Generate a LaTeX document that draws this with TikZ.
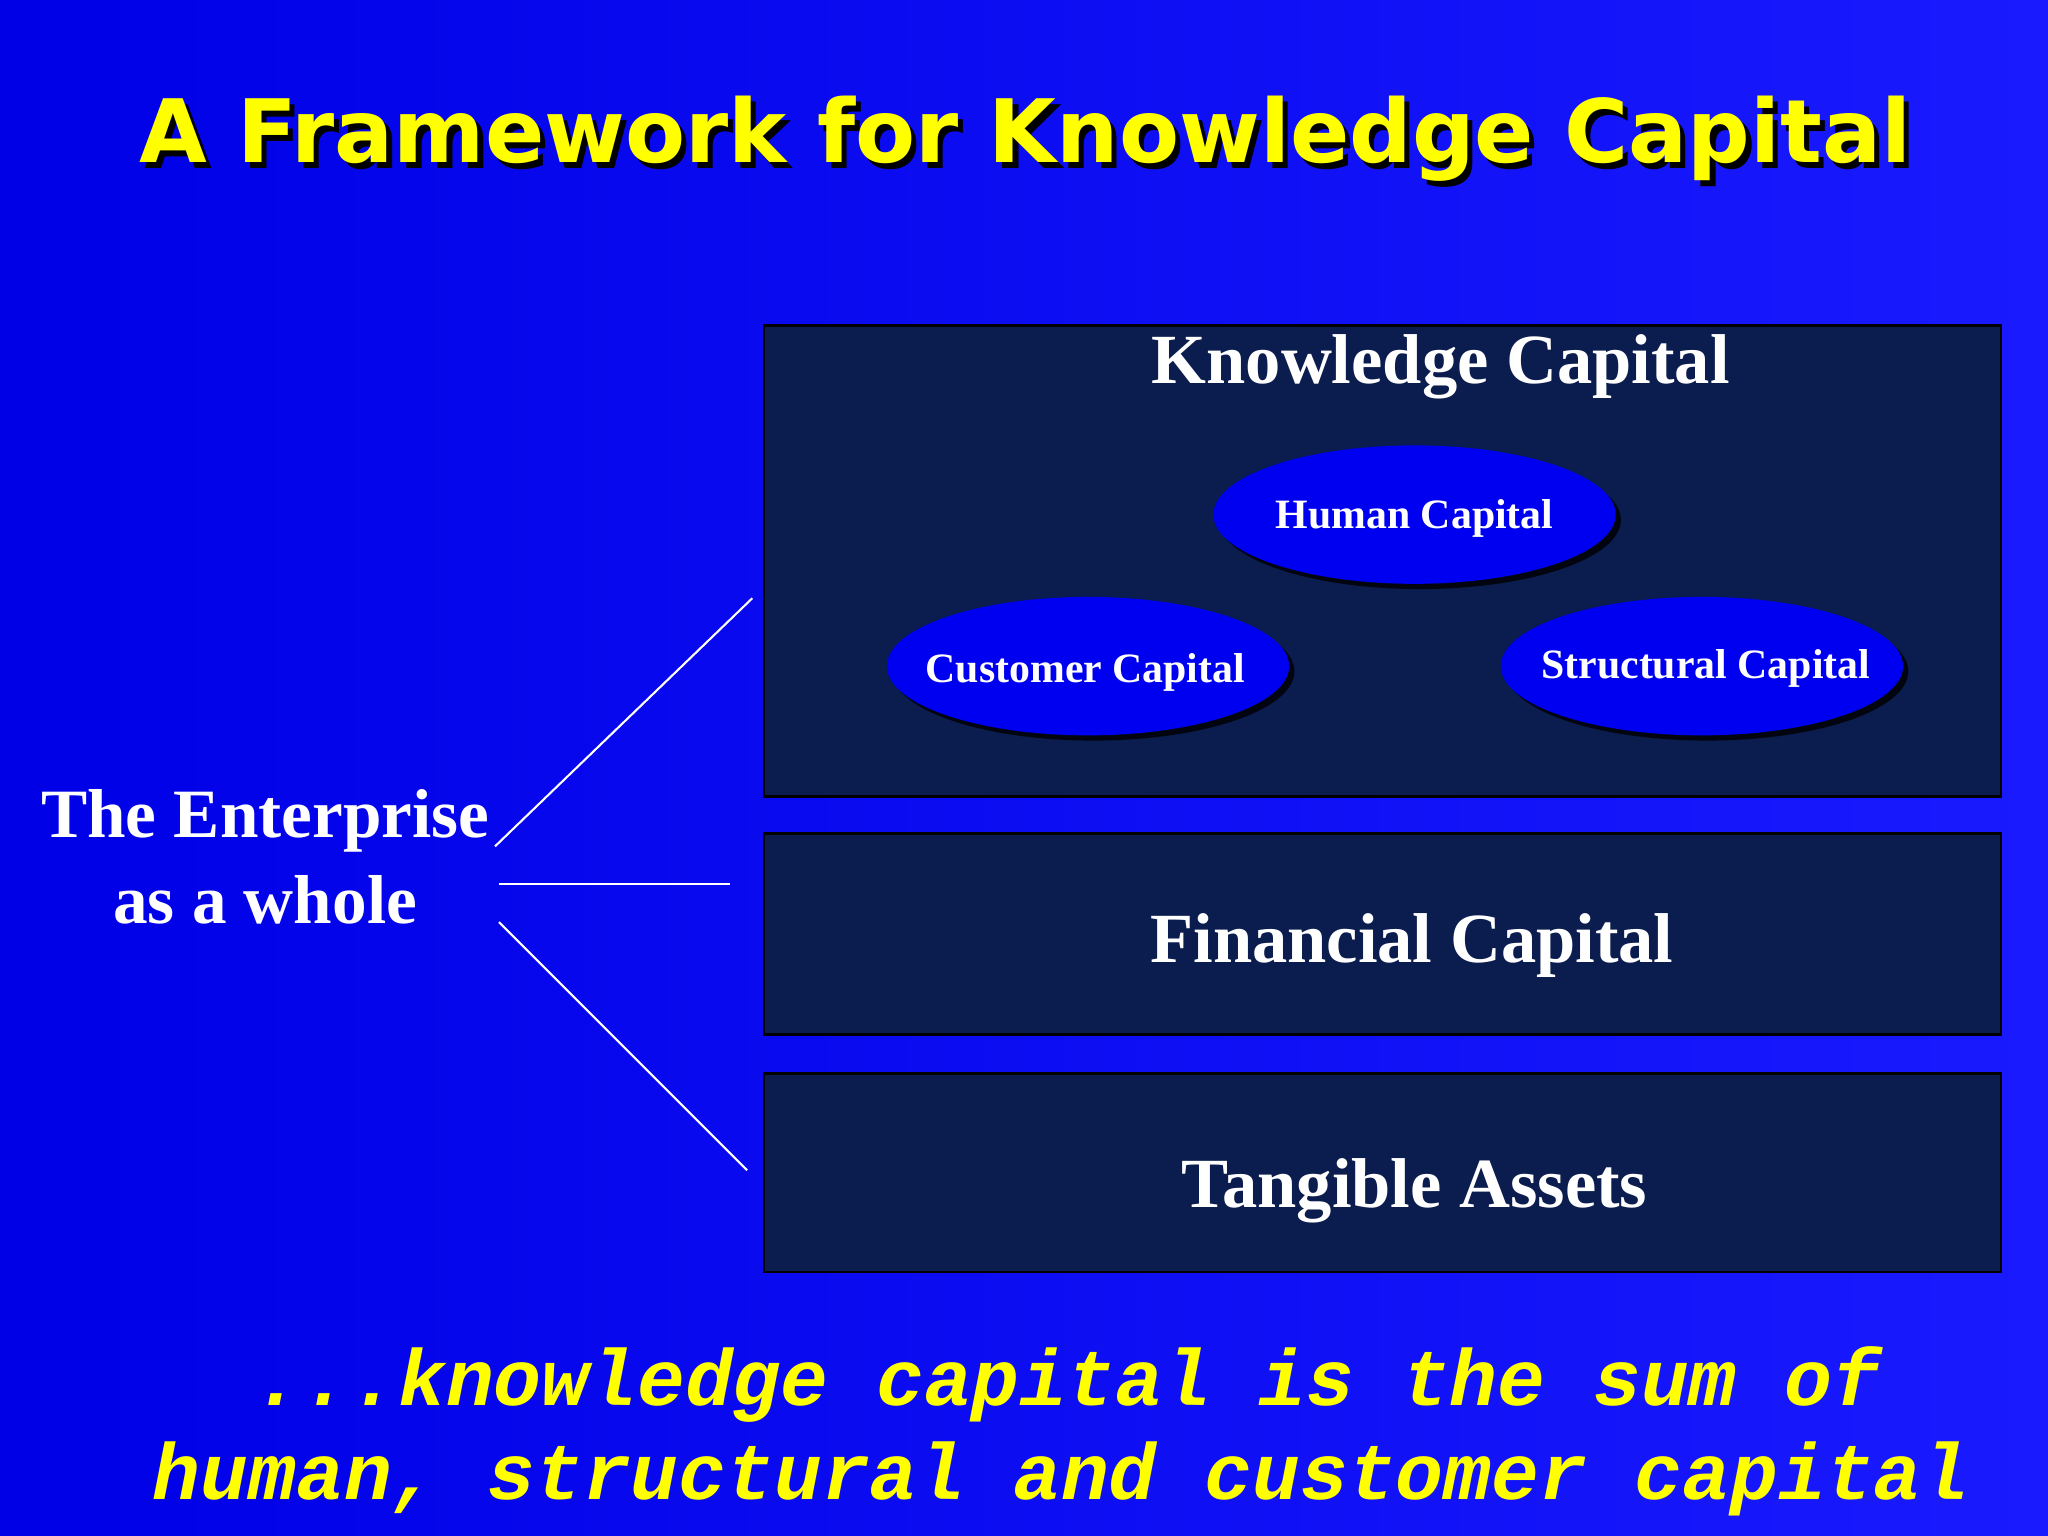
\documentclass[tikz,border=0pt]{standalone}
\usepackage{fontspec}
\setmainfont{Liberation Serif}
\newfontfamily\titlefont{DejaVu Sans}
\newfontfamily\monofont{Liberation Mono}
\usetikzlibrary{shapes.geometric,shadows}
\definecolor{bgA}{HTML}{0000E6}
\definecolor{bgB}{HTML}{1A1AFF}
\definecolor{navy}{HTML}{0B1C4E}
\definecolor{oval}{HTML}{0000F0}
\definecolor{ttl}{HTML}{FFFF00}
\tikzset{
 panel/.style={draw=black,line width=1pt,fill=navy},
 ovshape/.style={fill=oval,drop shadow={shadow xshift=2pt,shadow yshift=-2pt,fill=black,opacity=0.8}},
 ov/.style={text=white,inner sep=0pt,font=\bfseries\fontsize{16}{19}\selectfont},
 lbl/.style={text=white,font=\bfseries\fontsize{27}{32}\selectfont},
 link/.style={draw=white,line width=0.8pt}
}
\begin{document}
\begin{tikzpicture}[x=0.5pt,y=-0.5pt]
\useasboundingbox (0,0) rectangle (1568,1176);
\shade[left color=bgA,right color=bgB] (0,0) rectangle (1568,1176);
\node[text=black,font=\titlefont\bfseries\fontsize{33.5}{38}\selectfont] at (789,111) {A Framework for Knowledge Capital};
\node[text=ttl,font=\titlefont\bfseries\fontsize{33.5}{38}\selectfont] (title) at (785,106) {A Framework for Knowledge Capital};
\draw[panel] (585,249) rectangle (1532,610);
\draw[panel] (585,638) rectangle (1532,792);
\draw[panel] (585,822) rectangle (1532,974);
\node[lbl] (kc) at (1103,281) {Knowledge Capital};
\node[lbl] (fc) at (1081,724) {Financial Capital};
\node[lbl] (ta) at (1083,912) {Tangible Assets};
\path[ovshape] (1083,394) ellipse [x radius=154, y radius=53];
\path[ovshape] (833,510) ellipse [x radius=154, y radius=53];
\path[ovshape] (1303,510) ellipse [x radius=154, y radius=53];
\node[ov] (hc) at (1083,397) {Human Capital};
\node[ov] (cc) at (831,515) {Customer Capital};
\node[ov] (sc) at (1306,512) {Structural Capital};
\node[lbl,align=center,font=\bfseries\fontsize{26.5}{33}\selectfont] (ent) at (203,656) {The Enterprise\\as a whole};
\coordinate (a1) at (379,648); \coordinate (a2) at (576,458);
\coordinate (b1) at (382,677); \coordinate (b2) at (559,677);
\coordinate (c1) at (382,706); \coordinate (c2) at (572,896);
\draw[link] (a1) -- (a2);
\draw[link] (b1) -- (b2);
\draw[link] (c1) -- (c2);
\node[text=ttl,font=\monofont\bfseries\itshape\fontsize{30.5}{36}\selectfont,anchor=west] (s1) at (188,1060) {...knowledge capital is the sum of};
\node[text=ttl,font=\monofont\bfseries\itshape\fontsize{30.5}{36}\selectfont,anchor=west] (s2) at (110,1132) {human, structural and customer capital};
\end{tikzpicture}
\end{document}
